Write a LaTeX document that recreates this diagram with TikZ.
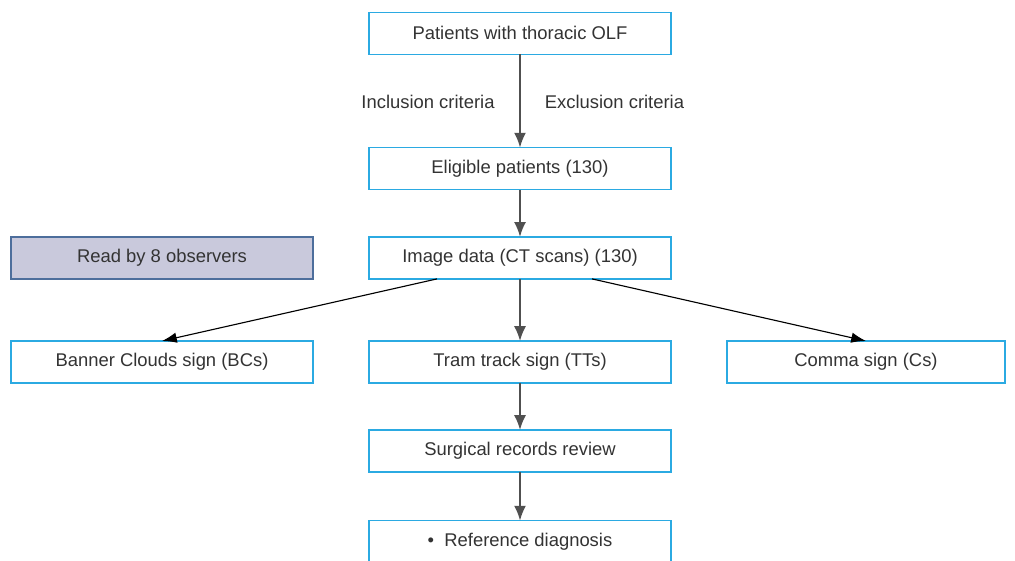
\documentclass[tikz,border=0pt]{standalone}
\usepackage{fontspec}
\setmainfont{Liberation Sans}
\usetikzlibrary{arrows.meta}
\definecolor{boxline}{HTML}{2BAAE2}
\definecolor{txtgray}{HTML}{333333}
\definecolor{lavender}{HTML}{C9C9DC}
\definecolor{readline}{HTML}{4D6E9C}
\definecolor{arrgray}{HTML}{505050}
\begin{document}
\begin{tikzpicture}[
    font=\fontsize{13.1}{15.7}\selectfont,
    flowbox/.style = {draw=boxline, line width=0.9pt, fill=white,
                text=txtgray, minimum width=#1, minimum height=1.05cm,
                inner sep=0pt, outer sep=0pt},
    flowbox/.default = 7.55cm,  % width of the main column
    readbox/.style = {flowbox, draw=readline, fill=lavender},
    lbl/.style = {text=txtgray, inner sep=0pt},
    varrow/.style = {draw=arrgray, line width=1.3pt,
                -{Latex[length=3.7mm,width=3mm]}},
    darrow/.style = {draw=black, line width=0.8pt,
                -{Latex[length=3.7mm,width=2.6mm]}}
                    ]
        \useasboundingbox (0,0) rectangle (25.375,14);
        \def\cx{13}
        % main column
        \node[flowbox] at (\cx,13.165) (top) {Patients with thoracic OLF};
        \node[flowbox] at (\cx,9.785) (elig) {Eligible patients (130)};
        \node[flowbox] at (\cx,7.5525) (img) {Image data (CT scans) (130)};
        \node[readbox] at (4.05,7.5525) (read) {Read by 8 observers};
        \node[flowbox] at (4.05,4.95) (bcs) {Banner Clouds sign (BCs)};
        \node[flowbox] at (\cx,4.95) (tts) {Tram track sign (TTs)};
        \node[flowbox=6.95cm] at (21.65,4.95) (cs) {Comma sign (Cs)};
        \node[flowbox] at (\cx,2.725) (surg) {Surgical records review};
        \node[flowbox] at (\cx,0.46) (refd) {\textbullet\ \ Reference diagnosis};
        \node[lbl] at (10.7,11.4575) (incl) {Inclusion criteria};
        \node[lbl] at (15.3625,11.4575) (excl) {Exclusion criteria};
        % connectors
        \foreach \a/\b in {top/elig, elig/img, img/tts, tts/surg, surg/refd}
            \draw[varrow] (\a) -- (\b);
        \draw[darrow] ([xshift=-2.075cm]img.south) -- (bcs.north);
        \draw[darrow] ([xshift=1.8cm]img.south) -- (cs.north);
    \end{tikzpicture}
\end{document}
